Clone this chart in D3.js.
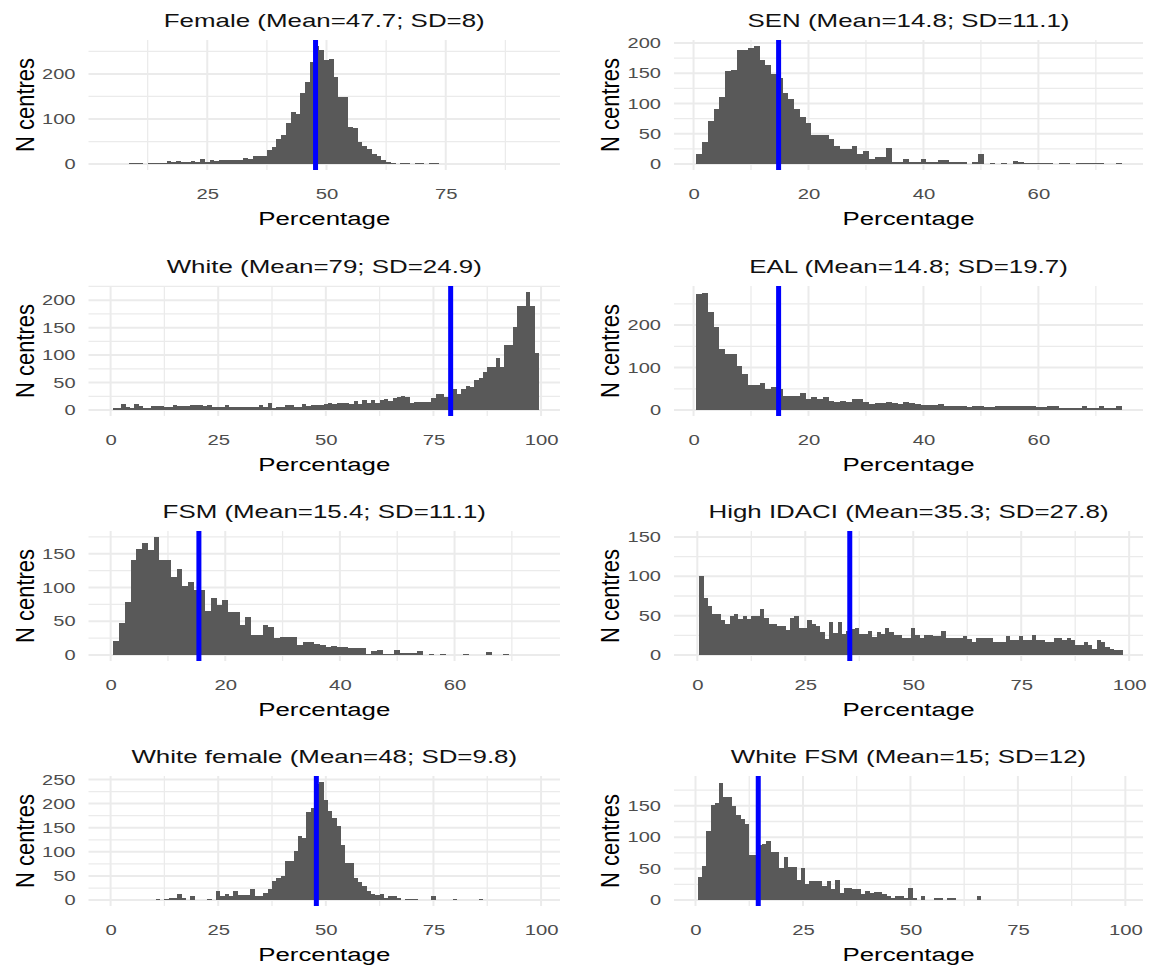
<!DOCTYPE html>
<html><head><meta charset="utf-8">
<script src="https://cdn.jsdelivr.net/npm/d3@7"></script>
<style>
html,body{margin:0;padding:0;background:#fff;}
svg{display:block;}
text{font-family:"Liberation Sans",Arial,Helvetica,sans-serif;}
</style></head><body>
<svg id="chart" width="1153" height="969"></svg>
<script>
// ---------------- data (bin width 1; index 0 = bin centred on 1%) ----------------
const titles = [
  "Female (Mean=47.7; SD=8)",
  "SEN (Mean=14.8; SD=11.1)",
  "White (Mean=79; SD=24.9)",
  "EAL (Mean=14.8; SD=19.7)",
  "FSM (Mean=15.4; SD=11.1)",
  "High IDACI (Mean=35.3; SD=27.8)",
  "White female (Mean=48; SD=9.8)",
  "White FSM (Mean=15; SD=12)"
];
const meanLines = [47.7, 14.8, 79, 14.8, 15.4, 35.3, 47.8, 14.6];

const femaleCounts = [0,0,0,0,0,0,0,0,2,2,2,0,2,2,3,3,7,4,7,5,5,7,5,12,5,8,6,8,8,8,8,9,13,12,18,18,18,32,37,55,64,90,116,112,157,182,226,262,252,230,234,193,148,148,83,80,48,41,33,23,17,10,4,3,0,2,2,0,2,2,0,2,2];
const senCounts = [17,37,71,91,111,153,156,189,189,192,195,172,163,148,142,118,107,91,78,67,48,48,48,41,30,25,25,30,16,22,9,11,11,27,4,4,9,4,4,9,4,4,7,7,4,3,3,0,3,16,0,2,0,2,0,5,3,2,2,2,2,2,0,2,2,0,2,2,2,2,2,0,0,2];
const whiteCounts = [4,4,11,6,4,11,7,3,3,7,7,7,5,5,9,7,7,7,9,9,9,7,9,6,6,6,9,6,6,6,6,6,6,6,9,6,13,3,6,6,9,9,6,6,11,7,9,9,10,11,13,11,13,13,13,11,16,11,18,13,18,13,18,21,16,22,24,26,24,13,15,15,14,14,22,30,30,24,38,38,30,38,44,42,55,58,70,79,79,94,79,118,118,152,190,190,215,190,103];
const ealCounts = [272,276,230,196,144,132,132,104,84,60,60,64,50,54,50,32,32,32,40,26,30,26,30,21,19,21,19,26,26,19,14,16,16,19,16,14,19,16,14,11,11,11,14,10,10,10,10,8,10,10,8,8,9,9,9,9,9,9,10,8,8,10,10,6,6,6,6,10,6,6,10,6,6,10];
const fsmCounts = [21,48,79,141,157,166,156,175,141,141,116,127,103,108,97,97,66,84,74,81,64,64,44,57,30,30,44,42,25,27,27,27,15,20,20,17,15,12,13,12,12,10,10,10,2,6,8,2,2,8,3,3,3,6,0,2,0,2,0,0,0,2,0,0,0,5,0,0,2];
const idaciCounts = [101,72,62,52,52,45,40,49,52,46,49,46,49,49,58,47,40,40,37,37,32,47,49,34,35,44,40,37,29,21,42,28,42,27,30,33,34,27,27,31,23,29,27,34,29,25,25,22,22,34,25,22,26,26,24,24,31,22,22,22,22,24,21,16,22,22,22,22,16,16,16,24,19,19,24,19,19,26,19,19,16,16,22,22,19,22,19,13,13,16,13,8,19,16,10,8,6,6];
const whiteFemaleCounts = [0,0,0,0,0,0,0,0,0,0,3,0,3,5,5,13,5,0,8,0,0,0,3,0,19,8,13,8,19,10,10,10,22,8,8,15,24,39,45,50,81,81,101,132,129,182,190,240,245,208,185,170,153,115,77,76,46,38,29,19,12,10,13,5,8,8,5,0,3,3,3,0,0,0,8,0,0,0,0,3,0,0,0,0,0,3];
const whiteFsmCounts = [36,55,110,151,155,187,164,164,149,135,129,121,72,72,87,90,94,77,77,51,68,53,53,32,51,26,30,31,31,22,30,18,32,12,19,19,17,17,9,14,12,13,13,9,6,4,6,6,4,19,4,0,6,0,0,4,4,0,4,4,0,0,0,0,0,7];

const countsList = [femaleCounts, senCounts, whiteCounts, ealCounts, fsmCounts, idaciCounts, whiteFemaleCounts, whiteFsmCounts];

const xTicks = [[25,50,75],[0,20,40,60],[0,25,50,75,100],[0,20,40,60],[0,20,40,60],[0,25,50,75,100],[0,25,50,75,100],[0,25,50,75,100]];
const yTicks = [[0,100,200],[0,50,100,150,200],[0,50,100,150,200],[0,100,200],[0,50,100,150],[0,50,100,150],[0,50,100,150,200,250],[0,50,100,150]];

// scale settings
const xDomains = [[0.1,98.95],[-3.4,78.2],[-5.13,104.4],[-3.4,78.2],[-3.86,78.4],[-5.4,103.2],[-5.13,104.4],[-5.0,104.1]];
const yMax = [262,195,215,278,175,150,245,188];

// layout
const colLeft = [88.5, 674], colRight = [560, 1143];
const rowTop = [40, 286, 531, 776], panelH = 130;

const svg = d3.select("#chart");
svg.append("rect").attr("width",1153).attr("height",969).attr("fill","#fff");

function minorOf(major){
  const step = major[1]-major[0];
  const out = [major[0]-step/2];
  major.forEach(m => out.push(m+step/2));
  return out;
}

titles.forEach((title, i) => {
  const col = i % 2, row = Math.floor(i/2);
  const L = colLeft[col], R = colRight[col], T = rowTop[row], B = T + panelH;
  const x = d3.scaleLinear().domain(xDomains[i]).range([L, R]);
  const M = yMax[i];
  const y = d3.scaleLinear().domain([-0.05*M, 1.05*M]).range([B, T]);
  const xd = x.domain(), yd = y.domain();
  const inX = v => v >= xd[0] && v <= xd[1], inY = v => v >= yd[0] && v <= yd[1];
  const g = svg.append("g");

  // grid
  const grid = g.append("g");
  grid.selectAll(".xm").data(minorOf(xTicks[i]).filter(inX)).join("line")
    .attr("x1", d => x(d)).attr("x2", d => x(d)).attr("y1", T).attr("y2", B)
    .attr("stroke", "#ebebeb").attr("stroke-width", 1.3);
  grid.selectAll(".ym").data(minorOf(yTicks[i]).filter(inY)).join("line")
    .attr("class","ym")
    .attr("x1", L).attr("x2", R).attr("y1", d => y(d)).attr("y2", d => y(d))
    .attr("stroke", "#ebebeb").attr("stroke-width", 1.3);
  grid.selectAll(".xM").data(xTicks[i].filter(inX)).join("line")
    .attr("class","xM")
    .attr("x1", d => x(d)).attr("x2", d => x(d)).attr("y1", T).attr("y2", B)
    .attr("stroke", "#ebebeb").attr("stroke-width", 2);
  grid.selectAll(".yM").data(yTicks[i].filter(inY)).join("line")
    .attr("class","yM")
    .attr("x1", L).attr("x2", R).attr("y1", d => y(d)).attr("y2", d => y(d))
    .attr("stroke", "#ebebeb").attr("stroke-width", 2);

  // bars
  const bins = countsList[i].map((c, k) => ({x0: k + 0.5, x1: k + 1.5, n: c})).filter(b => b.n > 0);
  g.append("g").selectAll("rect").data(bins).join("rect")
    .attr("x", d => x(d.x0)).attr("width", d => x(d.x1) - x(d.x0))
    .attr("y", d => y(d.n)).attr("height", d => y(0) - y(d.n))
    .attr("fill", "#595959").attr("shape-rendering", "crispEdges");

  // mean line
  g.append("line")
    .attr("x1", x(meanLines[i])).attr("x2", x(meanLines[i]))
    .attr("y1", T).attr("y2", B)
    .attr("stroke", "#0000ff").attr("stroke-width", 5);

  // x axis
  const xa = g.append("g").attr("transform", `translate(0,${B})`)
    .call(d3.axisBottom(x).tickValues(xTicks[i]).tickSize(0).tickPadding(19).tickFormat(d3.format("d")));
  xa.attr("font-size", null).attr("font-family", null);
  xa.select(".domain").remove();
  xa.selectAll("text").attr("fill", "#4d4d4d").attr("font-size", 14.5).attr("transform", "scale(1.4,1)");

  // y axis
  const ya = g.append("g").attr("transform", `translate(${L},0)`)
    .call(d3.axisLeft(y).tickValues(yTicks[i]).tickSize(0).tickPadding(13).tickFormat(d3.format("d")));
  ya.attr("font-size", null).attr("font-family", null);
  ya.select(".domain").remove();
  ya.selectAll("text").attr("fill", "#4d4d4d").attr("font-size", 14.5)
    .attr("x", -13/1.38).attr("transform", "scale(1.38,1)");

  // title
  g.append("text").attr("transform", `translate(${(L+R)/2},${T-13}) scale(1.4,1)`)
    .attr("text-anchor", "middle").attr("font-size", 18.5).attr("fill", "#111").text(title);
  // x title
  g.append("text").attr("transform", `translate(${(L+R)/2},${B+55}) scale(1.36,1)`)
    .attr("text-anchor", "middle").attr("font-size", 19).attr("fill", "#000").text("Percentage");
  // y title
  g.append("text").attr("transform", `translate(${L-55},${(T+B)/2}) scale(1.15,1) rotate(-90)`)
    .attr("text-anchor", "middle").attr("font-size", 22).attr("fill", "#000").text("N centres");
});
</script>
</body></html>
